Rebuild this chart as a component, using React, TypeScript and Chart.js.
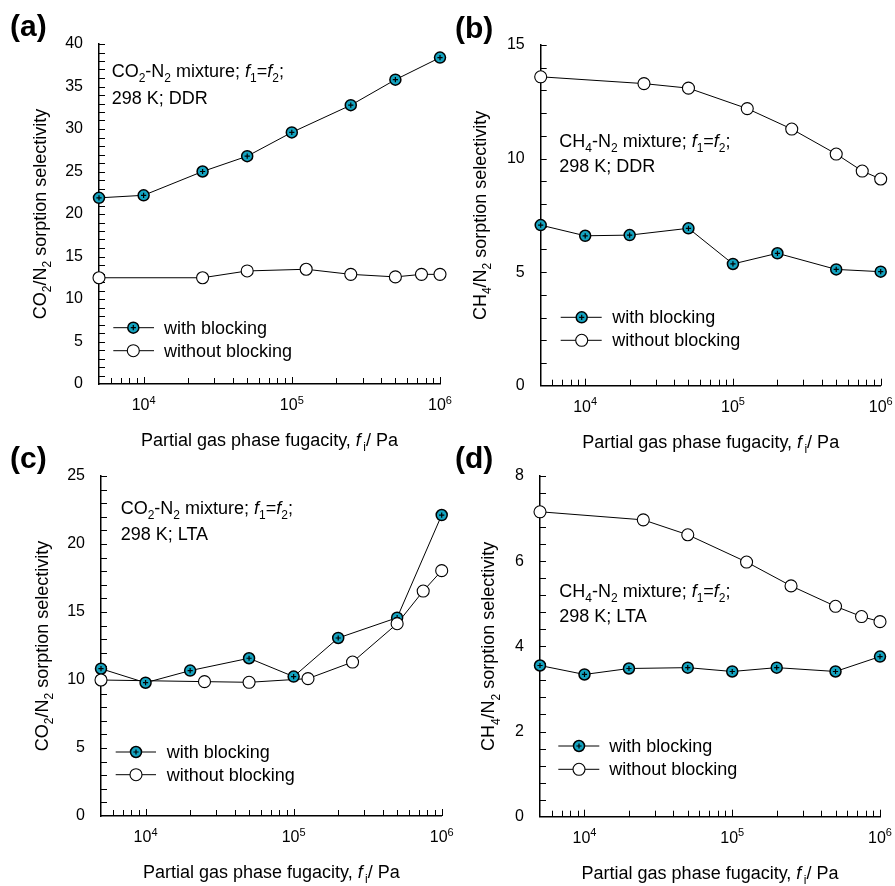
import React, { useEffect, useRef } from 'react';
import { Chart, registerables } from 'chart.js';

Chart.register(...registerables);

const FONT = '"Liberation Sans", Arial, Helvetica, sans-serif';
const TEAL = '#14a3c0';

// ---------------- data ----------------
// (a) CO2-N2, DDR
const A_WITH_X = [5e3, 1e4, 2.5e4, 5e4, 1e5, 2.5e5, 5e5, 1e6];
const A_WITH_Y = [21.9, 22.2, 25.0, 26.8, 29.6, 32.8, 35.8, 38.4];
const A_WITHOUT_X = [5e3, 2.5e4, 5e4, 1.25e5, 2.5e5, 5e5, 7.5e5, 1e6];
const A_WITHOUT_Y = [12.5, 12.5, 13.3, 13.5, 12.9, 12.6, 12.9, 12.9];

// (b) CH4-N2, DDR
const B_WITH_X = [5e3, 1e4, 2e4, 5e4, 1e5, 2e5, 5e5, 1e6];
const B_WITH_Y = [7.07, 6.6, 6.63, 6.93, 5.36, 5.83, 5.12, 5.02];
const B_WITHOUT_X = [5e3, 2.5e4, 5e4, 1.25e5, 2.5e5, 5e5, 7.5e5, 1e6];
const B_WITHOUT_Y = [13.6, 13.3, 13.1, 12.2, 11.3, 10.2, 9.45, 9.1];

// (c) CO2-N2, LTA
const C_WITH_X = [5e3, 1e4, 2e4, 5e4, 1e5, 2e5, 5e5, 1e6];
const C_WITH_Y = [10.83, 9.8, 10.69, 11.6, 10.25, 13.09, 14.58, 22.13];
const C_WITHOUT_X = [5e3, 2.5e4, 5e4, 1.25e5, 2.5e5, 5e5, 7.5e5, 1e6];
const C_WITHOUT_Y = [10.0, 9.88, 9.83, 10.1, 11.32, 14.14, 16.54, 18.04];

// (d) CH4-N2, LTA
const D_WITH_X = [5e3, 1e4, 2e4, 5e4, 1e5, 2e5, 5e5, 1e6];
const D_WITH_Y = [3.55, 3.34, 3.48, 3.5, 3.41, 3.5, 3.41, 3.76];
const D_WITHOUT_X = [5e3, 2.5e4, 5e4, 1.25e5, 2.5e5, 5e5, 7.5e5, 1e6];
const D_WITHOUT_Y = [7.16, 6.97, 6.62, 5.98, 5.42, 4.94, 4.7, 4.58];

// axis
const X_MIN = 5e3;
const X_MAX = 1e6;
const X_LABEL_VALUES = [1e4, 1e5, 1e6];
const X_LABEL_EXPONENTS = ['4', '5', '6'];
const X_MANTISSAS = [1, 2, 3, 4, 5, 6, 7, 8, 9];
const X_DECADES = [1e3, 1e4, 1e5, 1e6];

const LEGEND_WITH = 'with blocking';
const LEGEND_WITHOUT = 'without blocking';

type Seg = { t: string; it?: boolean; sub?: boolean; sup?: boolean };

const CO2_TITLE: Seg[] = [{ t: 'CO' }, { t: '2', sub: true }, { t: '/N' }, { t: '2', sub: true }, { t: ' sorption selectivity' }];
const CH4_TITLE: Seg[] = [{ t: 'CH' }, { t: '4', sub: true }, { t: '/N' }, { t: '2', sub: true }, { t: ' sorption selectivity' }];
const X_TITLE: Seg[] = [
  { t: 'Partial gas phase fugacity, ' },
  { t: 'f', it: true },
  { t: '\u2009i', sub: true },
  { t: '/ Pa' },
];
const fEq: Seg[] = [{ t: ' mixture; ' }, { t: 'f', it: true }, { t: '1', sub: true }, { t: '=' }, { t: 'f', it: true }, { t: '2', sub: true }, { t: ';' }];
const CO2_NOTE: Seg[] = [{ t: 'CO' }, { t: '2', sub: true }, { t: '-N' }, { t: '2', sub: true }, ...fEq];
const CH4_NOTE: Seg[] = [{ t: 'CH' }, { t: '4', sub: true }, { t: '-N' }, { t: '2', sub: true }, ...fEq];

interface PanelCfg {
  label: string;
  left: number;
  top: number;
  width: number;
  height: number;
  area: { l: number; r: number; t: number; b: number };
  yMax: number;
  yStep: number;
  yMinor: number;
  withX: number[];
  withY: number[];
  withoutX: number[];
  withoutY: number[];
  yTitle: Seg[];
  yTitleDx: number;
  note1: Seg[];
  note2: string;
  noteX: number;
  noteY1: number;
  noteY2: number;
  labelY: number;
  leg: { x1: number; x2: number; mx: number; y1: number; y2: number; tx: number };
}

const PANELS: PanelCfg[] = [
  {
    label: '(a)', left: 0, top: 0, width: 462, height: 455,
    area: { l: 99, r: 440, t: 44, b: 384 },
    yMax: 40, yStep: 5, yMinor: 1,
    withX: A_WITH_X, withY: A_WITH_Y, withoutX: A_WITHOUT_X, withoutY: A_WITHOUT_Y,
    yTitle: CO2_TITLE, yTitleDx: -59,
    note1: CO2_NOTE, note2: '298 K; DDR', noteX: 111.7, noteY1: 77, noteY2: 104,
    labelY: 28,
    leg: { x1: 113.3, x2: 154, mx: 133.3, y1: 327.7, y2: 350.7, tx: 164 },
  },
  {
    label: '(b)', left: 445, top: 0, width: 450, height: 455,
    area: { l: 95.7, r: 435.7, t: 45, b: 385.7 },
    yMax: 15, yStep: 5, yMinor: 1,
    withX: B_WITH_X, withY: B_WITH_Y, withoutX: B_WITHOUT_X, withoutY: B_WITHOUT_Y,
    yTitle: CH4_TITLE, yTitleDx: -61,
    note1: CH4_NOTE, note2: '298 K; DDR', noteX: 114.3, noteY1: 146.7, noteY2: 172.3,
    labelY: 30,
    leg: { x1: 115.7, x2: 156.7, mx: 136.7, y1: 317.3, y2: 340.3, tx: 167.3 },
  },
  {
    label: '(c)', left: 0, top: 440, width: 462, height: 446,
    area: { l: 101, r: 441.7, t: 36, b: 376 },
    yMax: 25, yStep: 5, yMinor: 1,
    withX: C_WITH_X, withY: C_WITH_Y, withoutX: C_WITHOUT_X, withoutY: C_WITHOUT_Y,
    yTitle: CO2_TITLE, yTitleDx: -59.3,
    note1: CO2_NOTE, note2: '298 K; LTA', noteX: 120.7, noteY1: 74, noteY2: 100,
    labelY: 20,
    leg: { x1: 115.7, x2: 156, mx: 136, y1: 312, y2: 334.7, tx: 166.7 },
  },
  {
    label: '(d)', left: 445, top: 440, width: 450, height: 446,
    area: { l: 95, r: 435, t: 36, b: 376.7 },
    yMax: 8, yStep: 2, yMinor: 0.4,
    withX: D_WITH_X, withY: D_WITH_Y, withoutX: D_WITHOUT_X, withoutY: D_WITHOUT_Y,
    yTitle: CH4_TITLE, yTitleDx: -51.7,
    note1: CH4_NOTE, note2: '298 K; LTA', noteX: 114.3, noteY1: 156.7, noteY2: 181.7,
    labelY: 20,
    leg: { x1: 113.3, x2: 154.3, mx: 134, y1: 306, y2: 329.3, tx: 164.3 },
  },
];

// ---------------- helpers ----------------
function segFont(s: Seg, size: number) {
  const sz = s.sub || s.sup ? Math.round(size * 0.68) : size;
  return `${s.it ? 'italic ' : ''}${sz}px ${FONT}`;
}

function richWidth(ctx: CanvasRenderingContext2D, segs: Seg[], size: number) {
  let w = 0;
  for (const s of segs) {
    ctx.font = segFont(s, size);
    w += ctx.measureText(s.t).width;
  }
  return w;
}

function drawRich(ctx: CanvasRenderingContext2D, segs: Seg[], x: number, y: number, size: number, align: 'left' | 'center') {
  let cx = align === 'center' ? x - richWidth(ctx, segs, size) / 2 : x;
  ctx.textAlign = 'left';
  ctx.textBaseline = 'alphabetic';
  ctx.fillStyle = '#000';
  for (const s of segs) {
    ctx.font = segFont(s, size);
    const dy = s.sub ? size * 0.3 : s.sup ? -size * 0.4 : 0;
    ctx.fillText(s.t, cx, y + dy);
    cx += ctx.measureText(s.t).width;
  }
}

function pts(xs: number[], ys: number[]) {
  return xs.map((x, i) => ({ x, y: ys[i] }));
}

function drawWithMarker(ctx: CanvasRenderingContext2D, x: number, y: number) {
  ctx.beginPath();
  ctx.arc(x, y, 5.5, 0, Math.PI * 2);
  ctx.fillStyle = TEAL;
  ctx.fill();
  ctx.lineWidth = 1.5;
  ctx.strokeStyle = '#000';
  ctx.stroke();
  ctx.beginPath();
  ctx.lineWidth = 1.2;
  ctx.moveTo(x - 2.6, y);
  ctx.lineTo(x + 2.6, y);
  ctx.moveTo(x, y - 2.6);
  ctx.lineTo(x, y + 2.6);
  ctx.stroke();
}

function drawWithoutMarker(ctx: CanvasRenderingContext2D, x: number, y: number) {
  ctx.beginPath();
  ctx.arc(x, y, 6, 0, Math.PI * 2);
  ctx.fillStyle = '#fff';
  ctx.fill();
  ctx.lineWidth = 1.1;
  ctx.strokeStyle = '#000';
  ctx.stroke();
}

function makePlugin(cfg: PanelCfg) {
  return {
    id: 'deco',
    beforeDatasetsDraw(chart: any) {
      const ctx: CanvasRenderingContext2D = chart.ctx;
      const xs = chart.scales.x;
      const ys = chart.scales.y;
      const ca = chart.chartArea;
      ctx.save();
      ctx.strokeStyle = '#000';
      ctx.lineWidth = 1;
      ctx.beginPath();
      const n = Math.round(cfg.yMax / cfg.yMinor);
      for (let i = 1; i <= n; i++) {
        const py = Math.round(ys.getPixelForValue(i * cfg.yMinor)) + 0.5;
        ctx.moveTo(ca.left, py);
        ctx.lineTo(ca.left + 6, py);
      }
      for (const d of X_DECADES) {
        for (const m of X_MANTISSAS) {
          const v = m * d;
          if (v <= X_MIN || v > X_MAX * 1.0001) continue;
          const px = Math.round(xs.getPixelForValue(v)) + 0.5;
          const len = m === 1 ? 7 : 6;
          ctx.moveTo(px, ca.bottom);
          ctx.lineTo(px, ca.bottom - len);
        }
      }
      ctx.stroke();
      ctx.restore();
    },
    afterDraw(chart: any) {
      const ctx: CanvasRenderingContext2D = chart.ctx;
      const xs = chart.scales.x;
      const ca = chart.chartArea;
      ctx.save();
      // x tick labels 10^n
      X_LABEL_VALUES.forEach((v, i) => {
        const px = xs.getPixelForValue(v);
        ctx.font = `16px ${FONT}`;
        const w1 = ctx.measureText('10').width;
        ctx.font = `11px ${FONT}`;
        const w2 = ctx.measureText(X_LABEL_EXPONENTS[i]).width;
        const sx = px - (w1 + w2) / 2;
        const by = ca.bottom + 26;
        ctx.fillStyle = '#000';
        ctx.textAlign = 'left';
        ctx.textBaseline = 'alphabetic';
        ctx.font = `16px ${FONT}`;
        ctx.fillText('10', sx, by);
        ctx.font = `11px ${FONT}`;
        ctx.fillText(X_LABEL_EXPONENTS[i], sx + w1, by - 6.5);
      });
      // x title
      drawRich(ctx, X_TITLE, (ca.left + ca.right) / 2, ca.bottom + 62, 18, 'center');
      // y title
      ctx.save();
      ctx.translate(ca.left + cfg.yTitleDx + 6, (ca.top + ca.bottom) / 2);
      ctx.rotate(-Math.PI / 2);
      drawRich(ctx, cfg.yTitle, 0, 0, 18, 'center');
      ctx.restore();
      // annotation
      drawRich(ctx, cfg.note1, cfg.noteX, cfg.noteY1, 18, 'left');
      drawRich(ctx, [{ t: cfg.note2 }], cfg.noteX, cfg.noteY2, 18, 'left');
      // legend
      const L = cfg.leg;
      [L.y1, L.y2].forEach((ly, k) => {
        ctx.beginPath();
        ctx.strokeStyle = '#000';
        ctx.lineWidth = 1;
        ctx.moveTo(L.x1, ly);
        ctx.lineTo(L.x2, ly);
        ctx.stroke();
        if (k === 0) drawWithMarker(ctx, L.mx, ly);
        else drawWithoutMarker(ctx, L.mx, ly);
        ctx.fillStyle = '#000';
        ctx.font = `18px ${FONT}`;
        ctx.textAlign = 'left';
        ctx.textBaseline = 'middle';
        ctx.fillText(k === 0 ? LEGEND_WITH : LEGEND_WITHOUT, L.tx, ly + 1);
      });
      // panel label
      ctx.fillStyle = '#000';
      ctx.font = `bold 30px ${FONT}`;
      ctx.textAlign = 'left';
      ctx.textBaseline = 'middle';
      ctx.fillText(cfg.label, 10, cfg.labelY);
      ctx.restore();
    },
  };
}

function Panel({ cfg }: { cfg: PanelCfg }) {
  const ref = useRef<HTMLCanvasElement>(null);
  useEffect(() => {
    if (!ref.current) return;
    const withPts = pts(cfg.withX, cfg.withY);
    const withoutPts = pts(cfg.withoutX, cfg.withoutY);
    const chart = new Chart(ref.current, {
      type: 'scatter',
      data: {
        datasets: [
          {
            label: 'without blocking line', data: withoutPts, showLine: true,
            borderColor: '#000', borderWidth: 1, pointRadius: 0, order: 4, clip: false,
          } as any,
          {
            label: LEGEND_WITH, data: withPts, showLine: true,
            borderColor: '#000', borderWidth: 1, pointRadius: 5.5,
            pointBackgroundColor: TEAL, pointBorderColor: '#000', pointBorderWidth: 1.5,
            order: 3, clip: false,
          },
          {
            label: 'with blocking cross', data: withPts, showLine: false, pointStyle: 'cross',
            pointRadius: 2.6, pointBorderColor: '#000', pointBorderWidth: 1.2, order: 2, clip: false,
          },
          {
            label: LEGEND_WITHOUT, data: withoutPts, showLine: false, pointRadius: 6,
            pointBackgroundColor: '#fff', pointBorderColor: '#000', pointBorderWidth: 1.1,
            order: 1, clip: false,
          },
        ],
      },
      options: {
        animation: false,
        responsive: false,
        events: [],
        layout: {
          padding: { left: 0, top: cfg.area.t, right: cfg.width - cfg.area.r, bottom: 0 },
        },
        plugins: { legend: { display: false }, tooltip: { enabled: false } },
        scales: {
          x: {
            type: 'logarithmic',
            min: X_MIN,
            max: X_MAX,
            grid: { display: false },
            border: { display: true, color: '#000', width: 1.5 },
            ticks: { display: false },
            afterFit: (s: any) => {
              s.height = cfg.height - cfg.area.b;
              s.paddingLeft = 0; s.paddingRight = 0; s.paddingTop = 0; s.paddingBottom = 0;
            },
          },
          y: {
            type: 'linear',
            min: 0,
            max: cfg.yMax,
            grid: { display: false },
            border: { display: true, color: '#000', width: 1.5 },
            ticks: {
              stepSize: cfg.yStep,
              color: '#000',
              font: { family: FONT, size: 16 },
              padding: 8,
            },
            afterFit: (s: any) => {
              s.width = cfg.area.l;
              s.paddingLeft = 0; s.paddingRight = 0; s.paddingTop = 0; s.paddingBottom = 0;
            },
          },
        },
      } as any,
      plugins: [makePlugin(cfg)],
    });
    return () => chart.destroy();
  }, [cfg]);
  return (
    <canvas
      ref={ref}
      width={cfg.width}
      height={cfg.height}
      style={{ position: 'absolute', left: cfg.left, top: cfg.top, width: cfg.width, height: cfg.height }}
    />
  );
}

export default function App() {
  return (
    <div style={{ position: 'absolute', left: 0, top: 0, width: 895, height: 886, background: '#fff', overflow: 'hidden' }}>
      {PANELS.map((p) => (
        <Panel key={p.label} cfg={p} />
      ))}
    </div>
  );
}
